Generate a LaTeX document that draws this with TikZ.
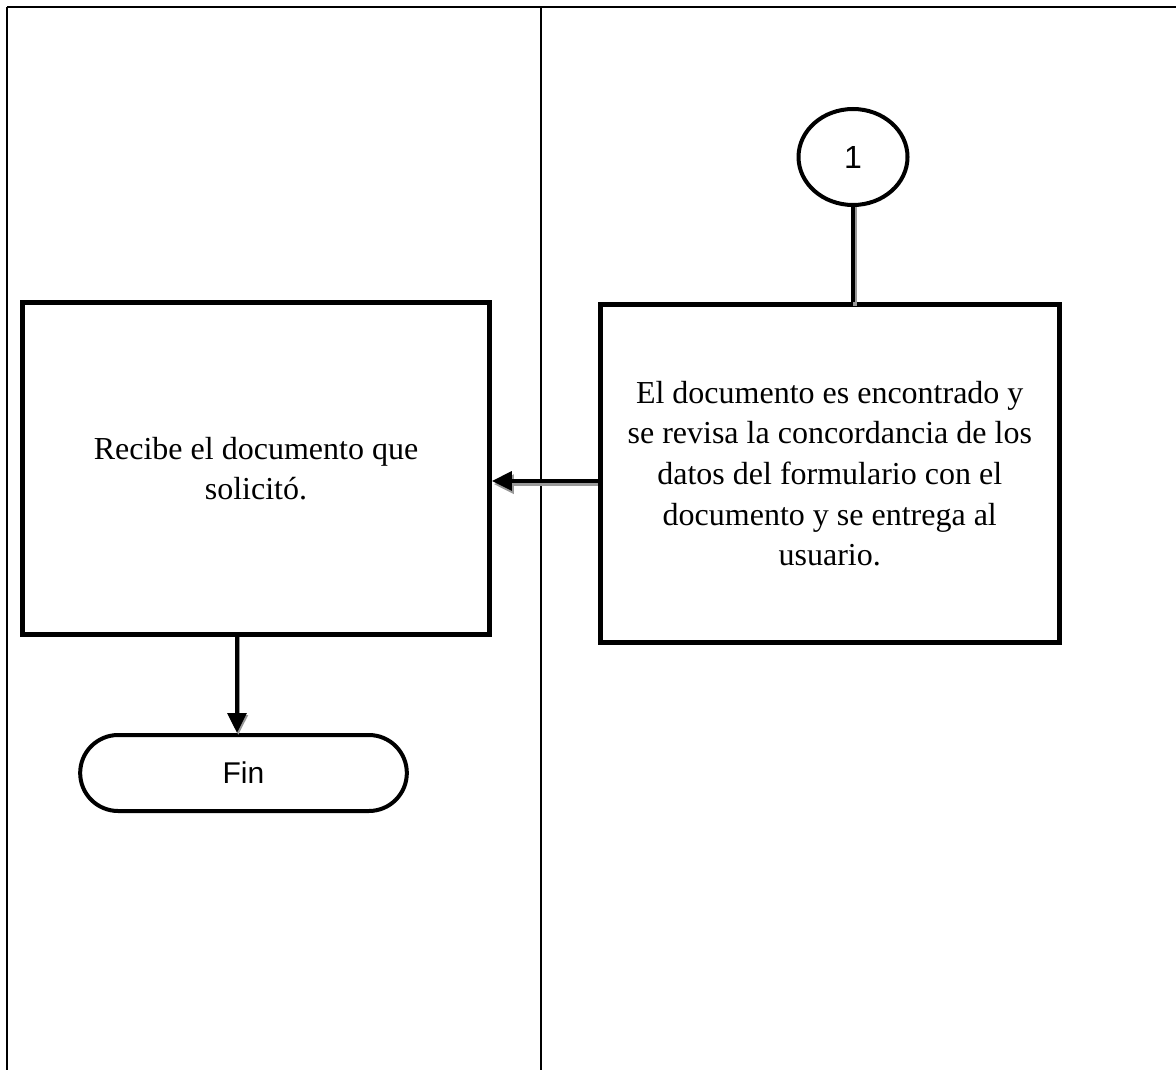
\documentclass[tikz,border=0pt]{standalone}
\usepackage{fontspec}
\setmainfont{Liberation Serif}
\newfontfamily\arialfont{Liberation Sans}
\usetikzlibrary{arrows.meta,shapes.geometric}
\begin{document}
\begin{tikzpicture}[x=0.75pt,y=-0.75pt,
  lane/.style={line width=1.5pt,black},
  procbox/.style={draw,line width=3.75pt,minimum width=#1,inner sep=0pt,
    align=center,font=\fontsize{24pt}{30.5pt}\selectfont},
  connector/.style={draw,line width=3pt,line join=miter},
  shadowline/.style={draw,line width=3pt,black!40},
  tip/.style={-{Triangle[length=15pt,width=14pt]}}
]
\useasboundingbox (0,0) rectangle (1176,1070);

% swimlane frame
\draw[lane] (7,7) -- (1176,7);
\draw[lane] (7,7) -- (7,1070);
\draw[lane] (541,7) -- (541,1070);

% shapes
\node[procbox=350pt,minimum height=249pt] (lbox) at (256,468.5)
  {Recibe el documento que\\solicitó.};
\node[procbox=344.6pt,minimum height=252.8pt] (rbox) at (829.75,473.5)
  {El documento es encontrado y\\se revisa la concordancia de los\\datos del formulario con el\\documento y se entrega al\\usuario.};
\node[draw,ellipse,line width=3pt,minimum width=81.75pt,minimum height=72pt,
  inner sep=0pt,font=\arialfont\fontsize{24pt}{28pt}\selectfont] (conn1) at (853,157) {1};
\node[draw,line width=3pt,rounded corners=28.5pt,minimum width=245pt,
  minimum height=57pt,inner sep=0pt,font=\arialfont\fontsize{22.5pt}{26pt}\selectfont]
  (fin) at (243.5,773) {Fin};

% connectors (grey shadow first)
\draw[shadowline] ([xshift=1.5pt]conn1.south) -- ([xshift=1.5pt,yshift=-2.5pt]conn1.south |- rbox.north);
\draw[connector] (conn1.south) -- (conn1.south |- rbox.north);

\draw[shadowline,tip] ([yshift=-8pt]rbox.west) -- ([xshift=1.5pt,yshift=-8pt]rbox.west -| lbox.east);
\draw[connector,tip] ([yshift=-5.6pt]rbox.west) -- ([yshift=-5.6pt]rbox.west -| lbox.east);

\draw[shadowline,tip] ([xshift=1pt]lbox.south -| 237,0) -- ([xshift=1pt,yshift=-1.5pt]fin.north -| 237,0);
\draw[connector,tip] (lbox.south -| 237,0) -- (fin.north -| 237,0);
\end{tikzpicture}
\end{document}
